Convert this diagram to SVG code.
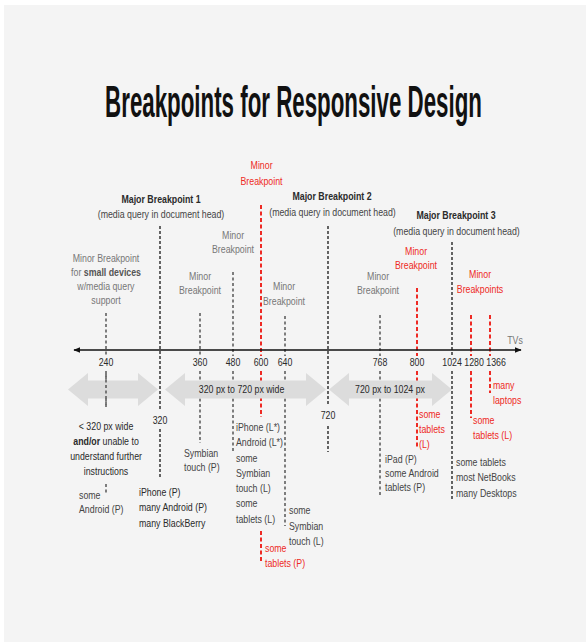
<svg xmlns="http://www.w3.org/2000/svg" width="586" height="642" viewBox="0 0 586 642">
<style>
text { font-family: "Liberation Sans", Arial, sans-serif; font-size: 11px; }
.c { text-anchor: middle; transform-box: fill-box; transform-origin: center; transform: scaleX(0.8); }
.l { text-anchor: start; transform-box: fill-box; transform-origin: left center; transform: scaleX(0.8); }
.ttl { font-size: 44px; font-weight: bold; fill: #111; text-anchor: middle; transform-box: fill-box; transform-origin: center; transform: scaleX(0.507); }
.dk { fill: #2a2a2a; }
.mid { fill: #444; }
.gr { fill: #777; }
.rd { fill: #ee2a24; }
.b { font-weight: bold; }
.maj { stroke: #333; stroke-width: 1.5; stroke-dasharray: 3 2; fill: none; }
.min { stroke: #555; stroke-width: 1.5; stroke-dasharray: 3 2.5; fill: none; }
.red { stroke: #ee2a24; stroke-width: 2; stroke-dasharray: 4 2.5; fill: none; }
.arr { fill: #dcdcdc; }
</style>
<defs>
<marker id="ah" viewBox="0 0 10 10" refX="9" refY="5" markerWidth="7" markerHeight="7" orient="auto-start-reverse" markerUnits="userSpaceOnUse">
<path d="M0,1 L10,5 L0,9 Z" fill="#111"/>
</marker>
</defs>
<rect x="0" y="0" width="586" height="642" fill="#ffffff"/>
<rect x="4" y="5" width="582" height="637" fill="#f4f4f4"/>

<g id="title">
<text class="ttl" x="293.5" y="117">Breakpoints for Responsive Design</text>
</g>

<g id="connectors">
<path class="min" d="M106,313 V356 M106,371 V408 M106,484 V493"/>
<path class="maj" d="M160,226 V409 M160,429 V477"/>
<path class="min" d="M200,313 V356 M200,371 V443"/>
<path class="min" d="M233,272 V356 M233,371 V452"/>
<path class="red" d="M261,205 V356 M261,371 V417 M261,531 V563"/>
<path class="min" d="M285,316 V356 M285,371 V526"/>
<path class="maj" d="M328,226 V406 M328,426 V452"/>
<path class="min" d="M380,315 V356 M380,371 V497"/>
<path class="red" d="M417,288 V356 M417,371 V448"/>
<path class="maj" d="M452,242 V356 M452,371 V500"/>
<path class="red" d="M471,315 V356 M471,371 V418"/>
<path class="red" d="M490,315 V356 M490,371 V393"/>
<line x1="74" y1="350" x2="521" y2="350" stroke="#111" stroke-width="1.5" marker-start="url(#ah)" marker-end="url(#ah)"/>
</g>

<g id="ranges">
<polygon class="arr" points="68,389.5 88,373 88,380.5 138,380.5 138,373 158,389.5 138,406 138,398.5 88,398.5 88,406"/>
<polygon class="arr" points="165,389.5 185,373 185,380.5 306,380.5 306,373 326,389.5 306,406 306,398.5 185,398.5 185,406"/>
<polygon class="arr" points="329,389.5 349,373 349,380.5 432,380.5 432,373 452,389.5 432,406 432,398.5 349,398.5 349,406"/>
<path class="min" d="M106,374 V406"/>
<text class="c dk" x="241.5" y="393">320 px to 720 px wide</text>
<text class="c dk" x="390" y="393">720 px to 1024 px</text>
</g>

<g id="axis-labels">
<text class="c dk" x="106" y="366">240</text>
<text class="c dk" x="200" y="366">360</text>
<text class="c dk" x="233" y="366">480</text>
<text class="c dk" x="261" y="366">600</text>
<text class="c dk" x="285" y="366">640</text>
<text class="c dk" x="380" y="366">768</text>
<text class="c dk" x="417" y="366">800</text>
<text class="c dk" x="452" y="366">1024</text>
<text class="c dk" x="474" y="366">1280</text>
<text class="c dk" x="496" y="366">1366</text>
<text class="c gr" x="515" y="344">TVs</text>
<text class="c dk" x="160" y="424">320</text>
<text class="c dk" x="328" y="419">720</text>
</g>

<g id="major-1">
<text class="c dk b" x="161" y="203">Major Breakpoint 1</text>
<text class="c mid" x="161" y="218">(media query in document head)</text>
</g>
<g id="major-2">
<text class="c dk b" x="332" y="200">Major Breakpoint 2</text>
<text class="c mid" x="332.5" y="216">(media query in document head)</text>
</g>
<g id="major-3">
<text class="c dk b" x="456" y="219">Major Breakpoint 3</text>
<text class="c mid" x="456.5" y="235">(media query in document head)</text>
</g>

<g id="minor-240">
<text class="c gr" x="106" y="262">Minor Breakpoint</text>
<text class="c gr" x="106" y="276">for <tspan class="b" style="fill:#555">small devices</tspan></text>
<text class="c gr" x="106" y="290">w/media query</text>
<text class="c gr" x="106" y="304">support</text>
</g>
<g id="minor-360">
<text class="c gr" x="200" y="280">Minor</text>
<text class="c gr" x="200" y="294">Breakpoint</text>
</g>
<g id="minor-480">
<text class="c gr" x="233" y="239">Minor</text>
<text class="c gr" x="233" y="253">Breakpoint</text>
</g>
<g id="minor-600">
<text class="c rd" x="261.5" y="169">Minor</text>
<text class="c rd" x="261.5" y="185">Breakpoint</text>
</g>
<g id="minor-640">
<text class="c gr" x="284" y="290">Minor</text>
<text class="c gr" x="284" y="305">Breakpoint</text>
</g>
<g id="minor-768">
<text class="c gr" x="378" y="280">Minor</text>
<text class="c gr" x="378" y="294">Breakpoint</text>
</g>
<g id="minor-800">
<text class="c rd" x="416" y="255">Minor</text>
<text class="c rd" x="416" y="269">Breakpoint</text>
</g>
<g id="minor-1280-1366">
<text class="c rd" x="480" y="278">Minor</text>
<text class="c rd" x="480" y="293">Breakpoints</text>
</g>

<g id="desc-240">
<text class="c dk" x="106" y="430">&lt; 320 px wide</text>
<text class="c dk" x="106" y="445"><tspan class="b">and/or</tspan> unable to</text>
<text class="c dk" x="106" y="460">understand further</text>
<text class="c dk" x="106" y="475">instructions</text>
<text class="l mid" x="79" y="499">some</text>
<text class="l mid" x="79" y="513">Android (P)</text>
</g>
<g id="desc-320">
<text class="l dk" x="139" y="496">iPhone (P)</text>
<text class="l dk" x="139" y="511">many Android (P)</text>
<text class="l dk" x="139" y="527">many BlackBerry</text>
</g>
<g id="desc-360">
<text class="l mid" x="184" y="457">Symbian</text>
<text class="l mid" x="184" y="471">touch (P)</text>
</g>
<g id="desc-480">
<text class="l mid" x="236" y="431">iPhone (L*)</text>
<text class="l mid" x="236" y="446">Android (L*)</text>
<text class="l mid" x="236" y="462">some</text>
<text class="l mid" x="236" y="477">Symbian</text>
<text class="l mid" x="236" y="492">touch (L)</text>
<text class="l mid" x="236" y="507">some</text>
<text class="l mid" x="236" y="523">tablets (L)</text>
</g>
<g id="desc-600">
<text class="l rd" x="265" y="552">some</text>
<text class="l rd" x="265" y="567">tablets (P)</text>
</g>
<g id="desc-640">
<text class="l mid" x="289" y="514">some</text>
<text class="l mid" x="289" y="530">Symbian</text>
<text class="l mid" x="289" y="545">touch (L)</text>
</g>
<g id="desc-768">
<text class="l mid" x="385" y="463">iPad (P)</text>
<text class="l mid" x="385" y="477">some Android</text>
<text class="l mid" x="385" y="491">tablets (P)</text>
</g>
<g id="desc-800">
<text class="l rd" x="419" y="418">some</text>
<text class="l rd" x="419" y="433">tablets</text>
<text class="l rd" x="419" y="448">(L)</text>
</g>
<g id="desc-1024">
<text class="l mid" x="456" y="466">some tablets</text>
<text class="l mid" x="456" y="481">most NetBooks</text>
<text class="l mid" x="456" y="497">many Desktops</text>
</g>
<g id="desc-1280">
<text class="l rd" x="473" y="424">some</text>
<text class="l rd" x="473" y="439">tablets (L)</text>
</g>
<g id="desc-1366">
<text class="l rd" x="493" y="389">many</text>
<text class="l rd" x="493" y="404">laptops</text>
</g>
</svg>
